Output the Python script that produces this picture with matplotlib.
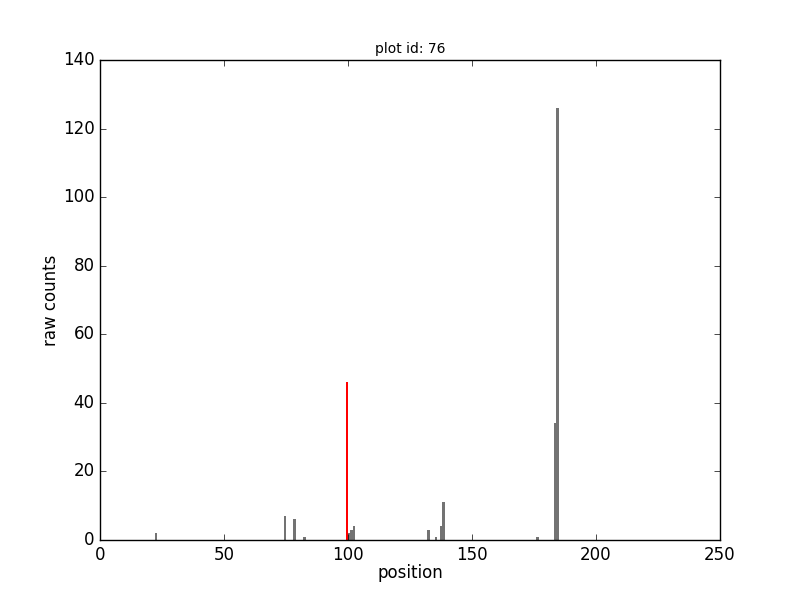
import matplotlib
matplotlib.use("Agg")
import matplotlib.pyplot as plt

# read counts per position
positions = [22, 74, 78, 82, 100, 101, 102, 132, 135, 137, 138, 176, 183, 184]
counts = [2, 7, 6, 1, 2, 3, 4, 3, 1, 4, 11, 1, 34, 126]

# highlighted position
hl_pos = [99]
hl_count = [46]

plt.style.use('classic')
fig = plt.figure(figsize=(8, 6), dpi=100, facecolor='white')
ax = fig.add_subplot(111)

ax.bar(positions, counts, width=1, align='edge', color='0.45', edgecolor='none')
ax.bar(hl_pos, hl_count, width=1.1, align='edge', color='red', edgecolor='none')

ax.set_xlim(0, 250)
ax.set_ylim(0, 140)
ax.set_xlabel("position", labelpad=0)
ax.set_ylabel("raw counts", labelpad=2)
ax.set_title("plot id: 76", fontsize=10)

fig.savefig("out.png", dpi=100, facecolor='white')
